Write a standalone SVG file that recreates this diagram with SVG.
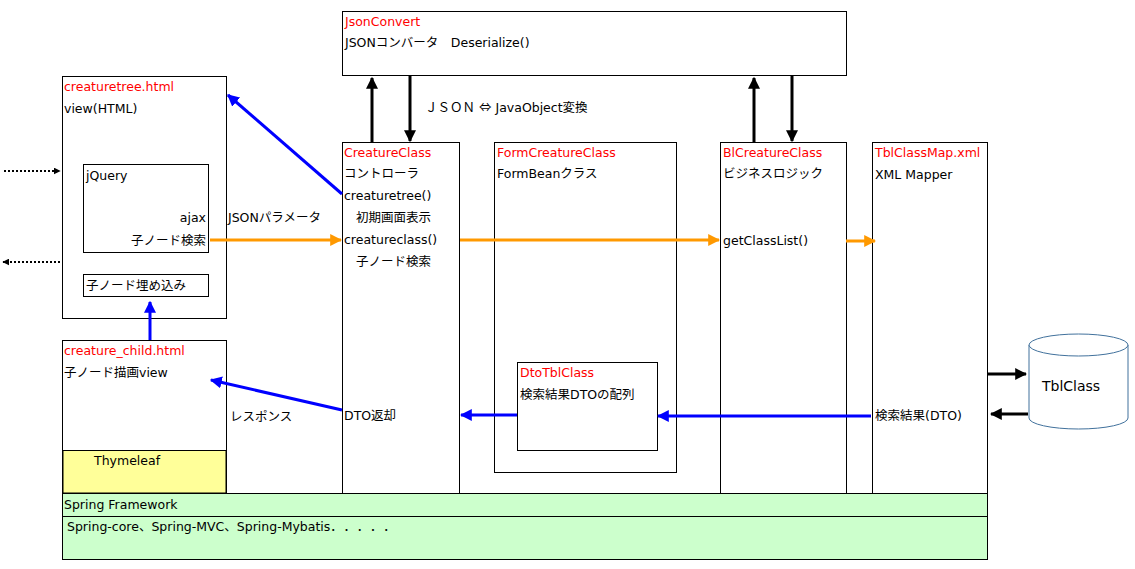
<svg xmlns="http://www.w3.org/2000/svg" width="1135" height="569" viewBox="0 0 1135 569">
<style>
text{font-family:"DejaVu Sans","Noto Sans CJK JP",sans-serif;font-size:12.5px;fill:#000}
.j{font-family:"Noto Sans CJK JP",sans-serif}
.r{fill:#ff0000}
.b{fill:#fff;stroke:#000;stroke-width:1}
.bl{stroke:#0000ff;stroke-width:3;fill:none}
.or{stroke:#ff9900;stroke-width:3;fill:none}
.k{stroke:#000;stroke-width:3;fill:none}
.d{stroke:#000;stroke-width:2;stroke-dasharray:2 2;fill:none}
</style>
<defs>
<marker id="ab" viewBox="0 0 10 10" refX="9" refY="5" markerWidth="4" markerHeight="4" orient="auto" markerUnits="strokeWidth"><path d="M0,0L10,5L0,10z" fill="#0000ff"/></marker>
<marker id="ao" viewBox="0 0 10 10" refX="9" refY="5" markerWidth="4" markerHeight="4" orient="auto" markerUnits="strokeWidth"><path d="M0,0L10,5L0,10z" fill="#ff9900"/></marker>
<marker id="ak" viewBox="0 0 10 10" refX="9" refY="5" markerWidth="4" markerHeight="4" orient="auto" markerUnits="strokeWidth"><path d="M0,0L10,5L0,10z" fill="#000"/></marker>
<marker id="ad" viewBox="0 0 10 10" refX="9" refY="5" markerWidth="3.5" markerHeight="3.5" orient="auto" markerUnits="strokeWidth"><path d="M0,0L10,5L0,10z" fill="#000"/></marker>
</defs>
<rect width="1135" height="569" fill="#fff"/>
<g id="json"><rect class="b" x="342.5" y="11.5" width="504" height="64"/><text class="r" x="345" y="26">JsonConvert</text><text x="345" y="47">JSONコンバータ　Deserialize()</text></g>
<text x="425" y="112">ＪＳＯＮ <tspan class="j">⇔</tspan> JavaObject変換</text>
<g id="tree"><rect class="b" x="62.5" y="76.5" width="164" height="242"/><text class="r" x="64" y="91">creaturetree.html</text><text x="64" y="113">view(HTML)</text>
<rect class="b" x="83.5" y="164.5" width="125" height="88"/><text x="86" y="180">jQuery</text><text x="206" y="222" text-anchor="end">ajax</text><text x="206" y="245" text-anchor="end">子ノード検索</text>
<rect class="b" x="83.5" y="274.5" width="125" height="22"/><text x="86" y="290">子ノード埋め込み</text></g>
<g id="child"><rect class="b" x="62.5" y="340.5" width="164" height="153"/><rect x="63" y="450.5" width="163" height="42.5" fill="#ffff99" stroke="#000"/><text class="r" x="64" y="355">creature_child.html</text><text x="64" y="377">子ノード描画view</text><text x="94" y="465">Thymeleaf</text></g>
<g id="cc"><rect class="b" x="342.5" y="142.5" width="117" height="351"/><text class="r" x="344" y="157">CreatureClass</text><text x="344" y="178">コントローラ</text><text x="344" y="200">creaturetree()</text><text x="356" y="222">初期画面表示</text><text x="344" y="244">creatureclass()</text><text x="356" y="266">子ノード検索</text><text x="344" y="420">DTO返却</text></g>
<g id="form"><rect class="b" x="494.5" y="142.5" width="182" height="330"/><text class="r" x="497" y="157">FormCreatureClass</text><text x="497" y="178">FormBeanクラス</text>
<rect class="b" x="517.5" y="362.5" width="140" height="88"/><text class="r" x="520" y="377">DtoTblClass</text><text x="520" y="399">検索結果DTOの配列</text></g>
<g id="bl"><rect class="b" x="720.5" y="142.5" width="126" height="351"/><text class="r" x="723" y="157">BlCreatureClass</text><text x="723" y="178">ビジネスロジック</text><text x="723" y="245">getClassList()</text></g>
<g id="map"><rect class="b" x="872.5" y="142.5" width="115" height="351"/><text class="r" x="875" y="157">TblClassMap.xml</text><text x="875" y="179">XML Mapper</text><text x="875" y="420">検索結果(DTO)</text></g>
<g id="spring"><rect x="62.5" y="493.5" width="925" height="23" fill="#ccffcc" stroke="#000"/><rect x="62.5" y="516.5" width="925" height="43" fill="#ccffcc" stroke="#000"/><text x="64" y="509">Spring Framework</text><text x="67" y="531">Spring-core、Spring-MVC、Spring-Mybatis<tspan class="j" letter-spacing="7">．．．．．</tspan></text></g>
<g id="db"><path d="M1029,345 V418 A49.5,11 0 0 0 1128,418 V345" fill="#fff" stroke="#41719c"/><ellipse cx="1078.5" cy="345" rx="49.5" ry="11" fill="#fff" stroke="#41719c"/><text x="1042" y="391" style="font-size:14px">TblClass</text></g>
<text x="228" y="222">JSONパラメータ</text>
<text x="230" y="421">レスポンス</text>
<g id="connectors">
<line class="k" x1="372" y1="142" x2="372" y2="78" marker-end="url(#ak)"/>
<line class="k" x1="410" y1="76" x2="410" y2="141" marker-end="url(#ak)"/>
<line class="k" x1="754" y1="142" x2="754" y2="78" marker-end="url(#ak)"/>
<line class="k" x1="792" y1="76" x2="792" y2="141" marker-end="url(#ak)"/>
<line class="bl" x1="342" y1="194" x2="228" y2="95" marker-end="url(#ab)"/>
<line class="or" x1="210" y1="240" x2="341" y2="240" marker-end="url(#ao)"/>
<line class="or" x1="460" y1="240" x2="719" y2="240" marker-end="url(#ao)"/>
<line class="or" x1="846" y1="241" x2="875" y2="241" marker-end="url(#ao)"/>
<line class="bl" x1="150" y1="340" x2="150" y2="302" marker-end="url(#ab)"/>
<line class="bl" x1="342" y1="410" x2="211" y2="380" marker-end="url(#ab)"/>
<line class="bl" x1="517" y1="415" x2="461" y2="415" marker-end="url(#ab)"/>
<line class="bl" x1="871" y1="416" x2="658" y2="416" marker-end="url(#ab)"/>
<line class="k" x1="988" y1="374" x2="1026" y2="374" marker-end="url(#ak)"/>
<line class="k" x1="1028" y1="414" x2="991" y2="414" marker-end="url(#ak)"/>
<line class="d" x1="4" y1="171" x2="60" y2="171" marker-end="url(#ad)"/>
<line class="d" x1="60" y1="262" x2="3" y2="262" marker-end="url(#ad)"/>
</g>
</svg>
